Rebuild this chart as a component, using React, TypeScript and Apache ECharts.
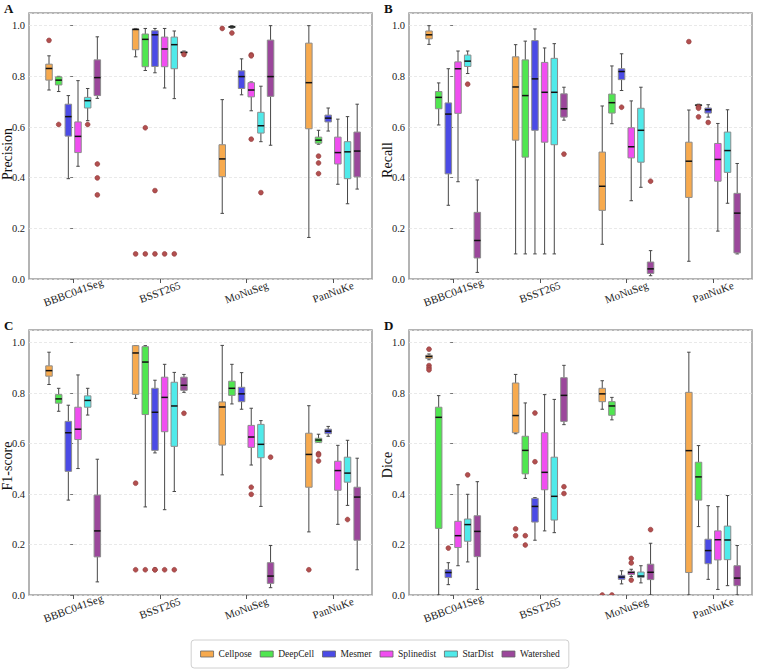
import React, { useEffect, useRef } from "react";
import * as echarts from "echarts";

// Datasets on the x axis and the six segmentation methods compared in each group
const datasets = ["BBBC041Seg", "BSST265", "MoNuSeg", "PanNuKe"];
const methods = ["Cellpose", "DeepCell", "Mesmer", "Splinedist", "StarDist", "Watershed"];
const methodColors = ["#F7AA4E", "#50E650", "#4B4BE6", "#F04EF0", "#50EAEA", "#9B479B"];
const yTickValues = [0, 0.2, 0.4, 0.6, 0.8, 1.0];

// Box summaries per method (rows) and dataset (columns): [whiskerLow, q1, median, q3, whiskerHigh]
const precisionBoxes = [
  [[0.746, 0.785, 0.831, 0.848, 0.881], [0.877, 0.905, 0.985, 0.987, 0.989], [0.259, 0.404, 0.474, 0.53, 0.708], [0.164, 0.593, 0.775, 0.931, 1.0]],
  [[0.74, 0.766, 0.785, 0.798, 0.8], [0.823, 0.838, 0.946, 0.967, 0.989], [0.99, 0.993, 0.995, 0.997, 1.0], [0.532, 0.536, 0.548, 0.56, 0.587]],
  [[0.396, 0.564, 0.641, 0.69, 0.724], [0.814, 0.839, 0.964, 0.98, 0.989], [0.727, 0.752, 0.799, 0.822, 0.869], [0.584, 0.62, 0.635, 0.647, 0.675]],
  [[0.445, 0.499, 0.563, 0.62, 0.783], [0.754, 0.838, 0.908, 0.955, 0.989], [0.664, 0.719, 0.746, 0.775, 0.778], [0.374, 0.454, 0.499, 0.56, 0.631]],
  [[0.625, 0.675, 0.704, 0.717, 0.752], [0.712, 0.83, 0.925, 0.955, 0.979], [0.542, 0.576, 0.605, 0.658, 0.761], [0.297, 0.396, 0.502, 0.542, 0.641]],
  [[0.713, 0.724, 0.795, 0.865, 0.956], [0.889, 0.892, 0.894, 0.897, 0.9], [0.528, 0.721, 0.799, 0.943, 1.0], [0.355, 0.403, 0.505, 0.58, 0.69]],
];
const recallBoxes = [
  [[0.926, 0.948, 0.964, 0.979, 1.0], [0.099, 0.548, 0.758, 0.877, 0.925], [0.137, 0.271, 0.366, 0.501, 0.683], [0.07, 0.322, 0.465, 0.54, 0.667]],
  [[0.608, 0.672, 0.717, 0.74, 0.774], [0.099, 0.481, 0.724, 0.865, 0.939], [0.613, 0.655, 0.696, 0.73, 0.841], [0.682, 0.684, 0.686, 0.688, 0.69]],
  [[0.291, 0.415, 0.651, 0.695, 0.83], [0.099, 0.587, 0.79, 0.941, 0.987], [0.744, 0.787, 0.819, 0.83, 0.889], [0.639, 0.655, 0.668, 0.675, 0.688]],
  [[0.384, 0.654, 0.83, 0.857, 0.9], [0.099, 0.54, 0.737, 0.855, 0.912], [0.309, 0.478, 0.522, 0.597, 0.703], [0.189, 0.386, 0.472, 0.535, 0.614]],
  [[0.811, 0.839, 0.86, 0.884, 0.9], [0.099, 0.53, 0.737, 0.871, 0.929], [0.362, 0.461, 0.587, 0.674, 0.757], [0.299, 0.421, 0.507, 0.58, 0.668]],
  [[0.026, 0.083, 0.152, 0.263, 0.391], [0.627, 0.639, 0.672, 0.731, 0.757], [0.013, 0.022, 0.04, 0.067, 0.112], [0.099, 0.103, 0.26, 0.338, 0.456]],
];
const f1Boxes = [
  [[0.834, 0.867, 0.889, 0.908, 0.962], [0.779, 0.795, 0.959, 0.988, 0.988], [0.476, 0.594, 0.745, 0.765, 0.989], [0.25, 0.427, 0.557, 0.641, 0.75]],
  [[0.728, 0.76, 0.777, 0.794, 0.819], [0.349, 0.715, 0.923, 0.984, 0.988], [0.757, 0.791, 0.819, 0.847, 0.914], [0.605, 0.605, 0.614, 0.621, 0.637]],
  [[0.376, 0.49, 0.643, 0.688, 0.752], [0.563, 0.573, 0.724, 0.819, 0.851], [0.736, 0.766, 0.797, 0.823, 0.881], [0.629, 0.639, 0.649, 0.657, 0.668]],
  [[0.501, 0.616, 0.657, 0.744, 0.872], [0.338, 0.647, 0.783, 0.863, 0.914], [0.515, 0.585, 0.626, 0.672, 0.74], [0.28, 0.415, 0.493, 0.53, 0.593]],
  [[0.713, 0.744, 0.771, 0.789, 0.819], [0.41, 0.589, 0.749, 0.843, 0.882], [0.351, 0.544, 0.597, 0.676, 0.691], [0.355, 0.447, 0.483, 0.546, 0.613]],
  [[0.052, 0.151, 0.254, 0.396, 0.538], [0.803, 0.811, 0.831, 0.863, 0.874], [0.029, 0.046, 0.075, 0.128, 0.196], [0.1, 0.217, 0.388, 0.427, 0.542]],
];
const diceBoxes = [
  [[0.932, 0.937, 0.945, 0.95, 0.955], [0.639, 0.643, 0.711, 0.84, 0.874], [0.736, 0.766, 0.797, 0.819, 0.849], [0.0, 0.089, 0.572, 0.803, 0.962]],
  [[0.0, 0.264, 0.704, 0.744, 0.79], [0.462, 0.48, 0.573, 0.629, 0.761], [0.694, 0.712, 0.749, 0.766, 0.783], [0.271, 0.376, 0.468, 0.526, 0.592]],
  [[0.041, 0.069, 0.089, 0.1, 0.128], [0.217, 0.289, 0.351, 0.383, 0.386], [0.044, 0.062, 0.071, 0.078, 0.096], [0.062, 0.124, 0.176, 0.221, 0.354]],
  [[0.116, 0.188, 0.235, 0.292, 0.437], [0.254, 0.417, 0.486, 0.643, 0.794], [0.073, 0.081, 0.089, 0.094, 0.102], [0.022, 0.139, 0.219, 0.254, 0.35]],
  [[0.131, 0.213, 0.279, 0.301, 0.399], [0.247, 0.297, 0.391, 0.546, 0.775], [0.048, 0.07, 0.075, 0.091, 0.116], [0.037, 0.14, 0.218, 0.273, 0.394]],
  [[0.022, 0.152, 0.252, 0.314, 0.449], [0.675, 0.688, 0.791, 0.861, 0.91], [0.0, 0.061, 0.09, 0.122, 0.205], [0.0, 0.037, 0.067, 0.116, 0.196]],
];

// Outlying observations: [datasetIndex, methodIndex, value]
const precisionOutliers = [
  [0, 0, 0.942], [0, 1, 0.61], [0, 4, 0.61], [0, 5, 0.454], [0, 5, 0.399], [0, 5, 0.332],
  [1, 0, 0.099], [1, 1, 0.597], [1, 1, 0.099], [1, 2, 0.349], [1, 2, 0.099], [1, 3, 0.099], [1, 4, 0.099], [1, 5, 0.886],
  [2, 0, 0.989], [2, 1, 0.971], [2, 3, 0.885], [2, 3, 0.881], [2, 3, 0.552], [2, 4, 0.341],
  [3, 1, 0.485], [3, 1, 0.458], [3, 1, 0.416],
];
const recallOutliers = [
  [0, 4, 0.769],
  [1, 5, 0.493],
  [2, 2, 0.678], [2, 5, 0.386],
  [3, 0, 0.937], [3, 1, 0.679], [3, 1, 0.674], [3, 1, 0.64], [3, 2, 0.618],
];
const f1Outliers = [
  [1, 0, 0.443], [1, 0, 0.1], [1, 1, 0.1], [1, 2, 0.1], [1, 2, 0.1], [1, 3, 0.1], [1, 4, 0.1], [1, 5, 0.72],
  [2, 3, 0.427], [2, 3, 0.399], [2, 5, 0.546],
  [3, 0, 0.1], [3, 1, 0.56], [3, 1, 0.555], [3, 1, 0.531], [3, 4, 0.299],
];
const diceOutliers = [
  [0, 0, 0.974], [0, 0, 0.909], [0, 0, 0.9], [0, 0, 0.892], [0, 2, 0.186], [0, 4, 0.476],
  [1, 0, 0.262], [1, 0, 0.235], [1, 1, 0.235], [1, 1, 0.198], [1, 2, 0.721], [1, 2, 0.528], [1, 5, 0.429], [1, 5, 0.402],
  [2, 0, 0.0], [2, 1, 0.0], [2, 3, 0.145], [2, 3, 0.127], [2, 3, 0.059], [2, 5, 0.259],
];

const FONT = "Liberation Serif, Times New Roman, DejaVu Serif, serif";
const SLOT = 0.1116; // spacing between neighbouring boxes, in category units
const BOX_W = 0.075;
const CAP_W = 0.04;

const panels = [
  { letter: "A", title: "Precision", boxes: precisionBoxes, outliers: precisionOutliers, grid: { left: 29, top: 13, width: 343, height: 266 }, titleY: 154 },
  { letter: "B", title: "Recall", boxes: recallBoxes, outliers: recallOutliers, grid: { left: 409, top: 13, width: 343, height: 266 }, titleY: 160 },
  { letter: "C", title: "F1-score", boxes: f1Boxes, outliers: f1Outliers, grid: { left: 29, top: 330, width: 343, height: 265 }, titleY: 466 },
  { letter: "D", title: "Dice", boxes: diceBoxes, outliers: diceOutliers, grid: { left: 409, top: 330, width: 343, height: 265 }, titleY: 465 },
];

const boxX = (dataset: number, method: number) => dataset + (method - 2.5) * SLOT;

function renderBox(_params: any, api: any) {
  const m = api.value(6);
  const xc = boxX(api.value(0), m);
  const [x, yLo] = api.coord([xc, api.value(1)]);
  const yQ1 = api.coord([xc, api.value(2)])[1];
  const yMed = api.coord([xc, api.value(3)])[1];
  const yQ3 = api.coord([xc, api.value(4)])[1];
  const yHi = api.coord([xc, api.value(5)])[1];
  const w = api.size([BOX_W, 0])[0];
  const cw = api.size([CAP_W, 0])[0];
  const whisker = { stroke: "#474747", lineWidth: 1 };
  return {
    type: "group",
    children: [
      { type: "line", shape: { x1: x, y1: yQ3, x2: x, y2: yHi }, style: whisker },
      { type: "line", shape: { x1: x, y1: yLo, x2: x, y2: yQ1 }, style: whisker },
      { type: "line", shape: { x1: x - cw / 2, y1: yHi, x2: x + cw / 2, y2: yHi }, style: whisker },
      { type: "line", shape: { x1: x - cw / 2, y1: yLo, x2: x + cw / 2, y2: yLo }, style: whisker },
      {
        type: "rect",
        shape: { x: x - w / 2, y: yQ3, width: w, height: Math.max(yQ1 - yQ3, 1) },
        style: { fill: methodColors[m], stroke: "#8c8c8c", lineWidth: 1 },
      },
      { type: "line", shape: { x1: x - w / 2, y1: yMed, x2: x + w / 2, y2: yMed }, style: { stroke: "#111", lineWidth: 1.5 } },
    ],
  };
}

function renderOutlier(_params: any, api: any) {
  const [x, y] = api.coord([boxX(api.value(0), api.value(1)), api.value(2)]);
  return {
    type: "circle",
    shape: { cx: x, cy: y, r: 2.4 },
    style: { fill: "#B24F4F", stroke: "#8E3A3A", lineWidth: 0.6 },
  };
}

export default function App() {
  const ref = useRef<HTMLDivElement>(null);

  useEffect(() => {
    if (!ref.current) return;
    const chart = echarts.init(ref.current, undefined, { renderer: "svg" });

    const grids: any[] = [];
    const xAxes: any[] = [];
    const yAxes: any[] = [];
    const series: any[] = [];
    const graphics: any[] = [];

    panels.forEach((p, i) => {
      grids.push({ ...p.grid, show: true, borderColor: "#9c9c9c", borderWidth: 1.5, containLabel: false });
      xAxes.push({
        gridIndex: i,
        type: "value",
        min: -0.51,
        max: 3.45,
        splitLine: { show: false },
        axisLine: { show: false },
        axisTick: { show: true, customValues: [0, 1, 2, 3], length: 4, lineStyle: { color: "#555" } },
        axisLabel: {
          customValues: [0, 1, 2, 3],
          formatter: (v: number) => datasets[Math.round(v)] ?? "",
          rotate: 20,
          align: "center",
          verticalAlign: "middle",
          margin: 13,
          fontFamily: FONT,
          fontSize: 11,
          color: "#222",
        },
      });
      yAxes.push({
        gridIndex: i,
        type: "value",
        min: 0,
        max: 1.05,
        interval: 0.2,
        axisLine: { show: false },
        axisTick: { show: true, length: 3, lineStyle: { color: "#777" } },
        splitLine: { show: true, lineStyle: { color: "#e3e3e3", type: [3, 2], width: 0.8 } },
        axisLabel: {
          showMaxLabel: false,
          formatter: (v: number) => (yTickValues.some((t) => Math.abs(t - v) < 1e-6) ? v.toFixed(1) : ""),
          margin: 4,
          fontFamily: FONT,
          fontSize: 10.5,
          color: "#222",
        },
      });

      methods.forEach((name, m) => {
        series.push({
          type: "custom",
          name,
          xAxisIndex: i,
          yAxisIndex: i,
          renderItem: renderBox,
          itemStyle: { color: methodColors[m], borderColor: "#777", borderWidth: 1 },
          data: datasets.map((_, d) => [d, ...p.boxes[m][d], m]),
          clip: true,
          z: 2,
        });
      });
      series.push({
        type: "custom",
        name: "outliers",
        xAxisIndex: i,
        yAxisIndex: i,
        renderItem: renderOutlier,
        data: p.outliers,
        clip: true,
        z: 3,
      });

      graphics.push({
        type: "text",
        left: p.grid.left - 25,
        top: p.grid.top - 11,
        style: { text: p.letter, font: `bold 13px ${FONT}`, fill: "#111" },
      });
      graphics.push({
        type: "text",
        x: p.grid.left - 22,
        y: p.titleY,
        rotation: Math.PI / 2,
        style: { text: p.title, font: `14px ${FONT}`, fill: "#111", align: "center", verticalAlign: "middle" },
      });
    });

    chart.setOption({
      animation: false,
      backgroundColor: "#fff",
      textStyle: { fontFamily: FONT },
      grid: grids,
      xAxis: xAxes,
      yAxis: yAxes,
      series,
      graphic: graphics,
      legend: {
        data: methods.map((name, m) => ({
          name,
          icon: "rect",
          itemStyle: { color: methodColors[m], borderColor: "#666", borderWidth: 0.8 },
        })),
        left: "center",
        bottom: 1,
        orient: "horizontal",
        itemWidth: 13,
        itemHeight: 6,
        itemGap: 8,
        padding: [9, 9],
        borderColor: "#d0d0d0",
        borderWidth: 1,
        borderRadius: 3,
        backgroundColor: "#fff",
        selectedMode: false,
        textStyle: { fontFamily: FONT, fontSize: 9.5, color: "#222" },
      },
    });

    return () => chart.dispose();
  }, []);

  return <div ref={ref} style={{ position: "fixed", left: 0, top: 0, width: 760, height: 669 }} />;
}
